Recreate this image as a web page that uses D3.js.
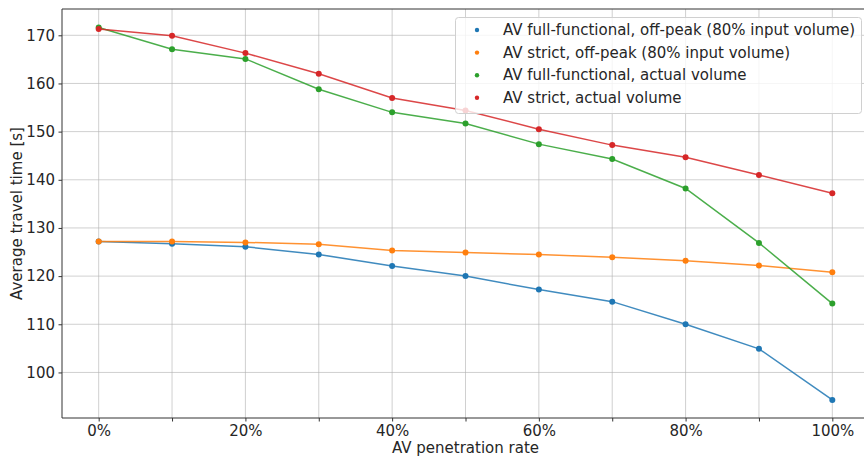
<!DOCTYPE html>
<html>
<head>
<meta charset="utf-8">
<script src="https://cdn.jsdelivr.net/npm/d3@7"></script>
<style>
  body { margin: 0; background: #fff; }
  svg { display: block; font-family: "DejaVu Sans", sans-serif; }
</style>
</head>
<body>
<script>
// AV penetration rate (%)
var rates = [0, 10, 20, 30, 40, 50, 60, 70, 80, 90, 100];

var fullOffPeak   = [127.2, 126.7, 126.1, 124.5, 122.1, 120.0, 117.2, 114.7, 110.0, 104.9, 94.3];
var strictOffPeak = [127.2, 127.2, 127.0, 126.6, 125.3, 124.9, 124.5, 123.9, 123.2, 122.2, 120.8];
var fullActual    = [171.6, 167.1, 165.1, 158.8, 154.0, 151.7, 147.4, 144.3, 138.2, 126.9, 114.3];
var strictActual  = [171.3, 169.9, 166.3, 162.0, 157.0, 154.4, 150.5, 147.2, 144.7, 141.0, 137.2];

var seriesNames = [
  "AV full-functional, off-peak (80% input volume)",
  "AV strict, off-peak (80% input volume)",
  "AV full-functional, actual volume",
  "AV strict, actual volume"
];
var colors = ["#1f77b4", "#ff7f0e", "#2ca02c", "#d62728"];
var xTickLabels = [0, 20, 40, 60, 80, 100];
var yTicks = [100, 110, 120, 130, 140, 150, 160, 170];

var width = 864, height = 457;
var mLeft = 62, mRight = 869, mTop = 9, mBottom = 418;
var font = "DejaVu Sans";

var svg = d3.select("body").append("svg")
  .attr("width", width)
  .attr("height", height);

var x = d3.scaleLinear().domain([-5, 105]).range([mLeft, mRight]);
var y = d3.scaleLinear().domain([90.54, 175.46]).range([mBottom, mTop]);

// grid
svg.append("g").selectAll("line").data(rates).enter().append("line")
  .attr("x1", d => x(d)).attr("x2", d => x(d))
  .attr("y1", mTop).attr("y2", mBottom)
  .attr("stroke", "#b0b0b0").attr("stroke-opacity", 0.6).attr("stroke-width", 1);
svg.append("g").selectAll("line").data(yTicks).enter().append("line")
  .attr("x1", mLeft).attr("x2", mRight)
  .attr("y1", d => y(d)).attr("y2", d => y(d))
  .attr("stroke", "#b0b0b0").attr("stroke-opacity", 0.6).attr("stroke-width", 1);

// axes
var xAxis = d3.axisBottom(x).tickValues(rates).tickSize(3.5)
  .tickFormat(d => xTickLabels.indexOf(d) >= 0 ? d + "%" : "");
var gx = svg.append("g").attr("transform", "translate(0," + mBottom + ")").call(xAxis)
  .attr("font-family", font).attr("font-size", 15);
gx.select(".domain").remove();
gx.selectAll("line").attr("stroke", "#333");
gx.selectAll("text").attr("fill", "#262626").attr("dy", "0.77em");

var yAxis = d3.axisLeft(y).tickValues(yTicks).tickSize(3.5);
var gy = svg.append("g").attr("transform", "translate(" + mLeft + ",0)").call(yAxis)
  .attr("font-family", font).attr("font-size", 15);
gy.select(".domain").remove();
gy.selectAll("line").attr("stroke", "#333");
gy.selectAll("text").attr("fill", "#262626").attr("x", -7);

// spines
svg.append("line").attr("x1", mLeft).attr("x2", mLeft).attr("y1", mTop).attr("y2", mBottom)
  .attr("stroke", "#333").attr("stroke-width", 1);
svg.append("line").attr("x1", mLeft).attr("x2", mRight).attr("y1", mBottom).attr("y2", mBottom)
  .attr("stroke", "#333").attr("stroke-width", 1);
svg.append("line").attr("x1", mLeft).attr("x2", mRight).attr("y1", mTop).attr("y2", mTop)
  .attr("stroke", "#333").attr("stroke-width", 1);

// series
var allSeries = [fullOffPeak, strictOffPeak, fullActual, strictActual];
var line = d3.line().x((d, i) => x(rates[i])).y(d => y(d));

allSeries.forEach(function(vals, k) {
  var g = svg.append("g");
  g.append("path").datum(vals)
    .attr("d", line)
    .attr("fill", "none")
    .attr("stroke", colors[k])
    .attr("stroke-opacity", 0.85)
    .attr("stroke-width", 1.5);
  g.selectAll("circle").data(vals).enter().append("circle")
    .attr("cx", (d, i) => x(rates[i]))
    .attr("cy", d => y(d))
    .attr("r", 3)
    .attr("fill", colors[k]);
});

// legend
var lg = svg.append("g");
lg.append("rect")
  .attr("x", 455.5).attr("y", 17.5)
  .attr("width", 406).attr("height", 96)
  .attr("rx", 3)
  .attr("fill", "#fff").attr("fill-opacity", 0.8)
  .attr("stroke", "#d0d0d0").attr("stroke-width", 1);
seriesNames.forEach(function(name, k) {
  var cy = 30 + k * 22.6;
  lg.append("circle").attr("cx", 477).attr("cy", cy).attr("r", 2.2).attr("fill", colors[k]);
  lg.append("text").attr("x", 503).attr("y", cy).attr("dy", "0.35em")
    .attr("font-size", 15).attr("fill", "#262626").text(name);
});

// axis labels
svg.append("text")
  .attr("x", (mLeft + mRight) / 2).attr("y", 453)
  .attr("text-anchor", "middle").attr("font-size", 15).attr("fill", "#262626")
  .text("AV penetration rate");
svg.append("text")
  .attr("transform", "translate(22," + ((mTop + mBottom) / 2) + ") rotate(-90)")
  .attr("text-anchor", "middle").attr("font-size", 15).attr("fill", "#262626")
  .text("Average travel time [s]");
</script>
</body>
</html>
